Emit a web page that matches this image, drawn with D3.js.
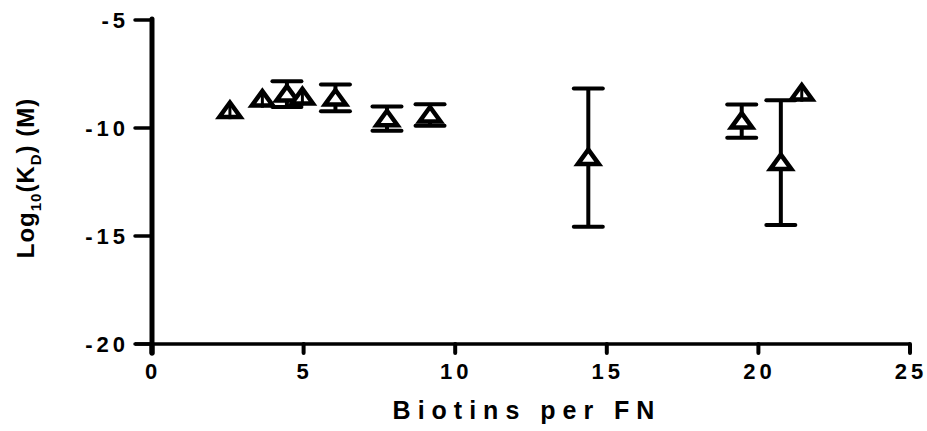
<!DOCTYPE html>
<html>
<head>
<meta charset="utf-8">
<script src="https://cdn.jsdelivr.net/npm/d3@7"></script>
<style>
  body { margin: 0; background: #fff; }
  svg { display: block; }
  text { font-family: "Liberation Sans", Arial, sans-serif; font-weight: bold; fill: #000; }
</style>
</head>
<body>
<svg id="chart"></svg>
<script>
const biotins = [2.57, 3.64, 4.45, 4.96, 6.05, 7.75, 9.17, 14.39, 19.45, 20.74, 21.43];
const logKd   = [-9.19, -8.66, -8.43, -8.56, -8.61, -9.57, -9.40, -11.37, -9.68, -11.60, -8.38];
const kdErr   = [0.40, 0.40, 0.60, 0.40, 0.62, 0.56, 0.50, 3.20, 0.77, 2.89, 0.40];
const xTicks = [0, 5, 10, 15, 20, 25];
const yTicks = [-5, -10, -15, -20];

const width = 927, height = 431;
const svg = d3.select("#chart").attr("width", width).attr("height", height);

const x = d3.scaleLinear().domain([0, 25]).range([152, 910]);
const y = d3.scaleLinear().domain([-20, -5]).range([344, 20]);

const points = biotins.map((b, i) => ({x: b, y: logKd[i], e: kdErr[i]}));

// y axis
const gy = svg.append("g").attr("transform", "translate(" + x(0) + ",0)");
gy.append("line")
  .attr("x1", 0).attr("x2", 0)
  .attr("y1", y(-5) - 1).attr("y2", y(-20) + 9)
  .attr("stroke", "#000").attr("stroke-width", 5).attr("stroke-linecap", "round");
yTicks.forEach(function (t) {
  gy.append("line")
    .attr("x1", -17).attr("x2", 0)
    .attr("y1", y(t)).attr("y2", y(t))
    .attr("stroke", "#000").attr("stroke-width", 3.5).attr("stroke-linecap", "round");
  gy.append("text")
    .attr("x", -23).attr("y", y(t)).attr("dy", "0.36em")
    .attr("text-anchor", "end")
    .style("font-size", "22px").style("letter-spacing", "4px")
    .text(t);
});

// x axis
const gx = svg.append("g").attr("transform", "translate(0," + y(-20) + ")");
gx.append("line")
  .attr("x1", x(0) - 17).attr("x2", x(25))
  .attr("y1", 0).attr("y2", 0)
  .attr("stroke", "#000").attr("stroke-width", 3.5);
xTicks.forEach(function (t) {
  gx.append("line")
    .attr("x1", x(t)).attr("x2", x(t))
    .attr("y1", 0).attr("y2", 9)
    .attr("stroke", "#000").attr("stroke-width", t === 0 ? 5 : 4).attr("stroke-linecap", "round");
  gx.append("text")
    .attr("x", x(t) + 1).attr("y", 35)
    .attr("text-anchor", "middle")
    .style("font-size", "22px").style("letter-spacing", "4px")
    .text(t);
});

// axis titles
svg.append("text")
  .attr("x", 527).attr("y", 419)
  .attr("text-anchor", "middle")
  .style("font-size", "25px").style("letter-spacing", "7px")
  .text("Biotins per FN");

const yt = svg.append("text")
  .attr("transform", "translate(34,178) rotate(-90)")
  .attr("text-anchor", "middle")
  .style("font-size", "24px").style("letter-spacing", "1px");
yt.append("tspan").text("Log");
yt.append("tspan").attr("dy", 7).style("font-size", "15px").text("10");
yt.append("tspan").attr("dy", -7).text("(K");
yt.append("tspan").attr("dy", 7).style("font-size", "15px").text("D");
yt.append("tspan").attr("dy", -7).text(")  (M)");

// error bars + symbols (bars shorter than the symbol show only as a stem over it)
const half = 9.5, capW = 29;
const tri = "M0,-8L10.5,6.5L-10.5,6.5Z";
const pts = svg.append("g");

points.forEach(function (d) {
  const cx = x(d.x), cy = y(d.y);
  const top = y(d.y + d.e), bot = y(d.y - d.e);
  const g = pts.append("g");
  const small = (bot - cy) < half;
  if (!small) {
    g.append("line").attr("x1", cx).attr("x2", cx).attr("y1", top).attr("y2", bot)
      .attr("stroke", "#000").attr("stroke-width", 4);
    [top, bot].forEach(function (yy) {
      g.append("line").attr("x1", cx - capW / 2).attr("x2", cx + capW / 2)
        .attr("y1", yy).attr("y2", yy)
        .attr("stroke", "#000").attr("stroke-width", 4).attr("stroke-linecap", "round");
    });
  }
  g.append("path").attr("d", tri).attr("transform", "translate(" + cx + "," + cy + ")")
    .attr("fill", "#fff").attr("stroke", "#000").attr("stroke-width", 4.5)
    .attr("stroke-linejoin", "miter");
  if (small) {
    g.append("line").attr("x1", cx).attr("x2", cx).attr("y1", top).attr("y2", bot)
      .attr("stroke", "#000").attr("stroke-width", 3);
  }
});
</script>
</body>
</html>
